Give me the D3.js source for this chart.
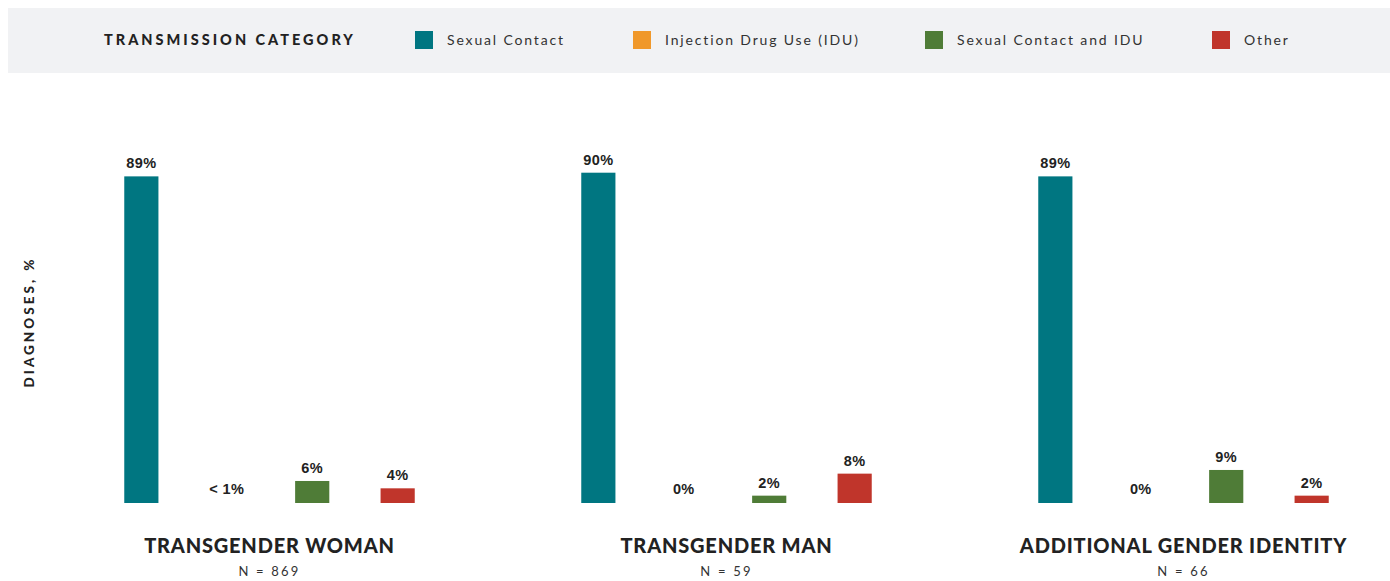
<!DOCTYPE html>
<html><head><meta charset="utf-8">
<script src="https://cdn.jsdelivr.net/npm/d3@7"></script>
<style>
body{margin:0;background:#fff;}
svg{display:block;}
</style></head>
<body>
<svg id="chart" width="1390" height="581"></svg>
<script>
const groups = ["TRANSGENDER WOMAN", "TRANSGENDER MAN", "ADDITIONAL GENDER IDENTITY"];
const groupN = ["N = 869", "N = 59", "N = 66"];
const categories = ["Sexual Contact", "Injection Drug Use (IDU)", "Sexual Contact and IDU", "Other"];
const colors = ["#007681", "#f0982a", "#4f7c37", "#c0352b"];
const sexualContact = [89, 90, 89];
const idu = [0, 0, 0];
const sexualContactIdu = [6, 2, 9];
const other = [4, 8, 2];
const valueLabels = [["89%", "< 1%", "6%", "4%"], ["90%", "0%", "2%", "8%"], ["89%", "0%", "9%", "2%"]];

const series = [sexualContact, idu, sexualContactIdu, other];
const svg = d3.select("#chart");

// legend band
svg.append("rect").attr("x", 8).attr("y", 8).attr("width", 1382).attr("height", 65).attr("fill", "#f1f2f4");
svg.append("text").attr("x", 104).attr("y", 45).text("TRANSMISSION CATEGORY")
  .attr("font-family", "Lato, sans-serif").attr("font-weight", 900).attr("font-size", 14.5)
  .attr("letter-spacing", 3).attr("fill", "#222");
const legX = [415, 633, 925, 1212];
categories.forEach((c, i) => {
  svg.append("rect").attr("x", legX[i]).attr("y", 31).attr("width", 18).attr("height", 18).attr("fill", colors[i]);
  svg.append("text").attr("x", legX[i] + 32).attr("y", 45).text(c)
    .attr("font-family", "Lato, sans-serif").attr("font-size", 14).attr("letter-spacing", 1.85).attr("fill", "#333");
});

const x0 = d3.scaleBand().domain(groups).range([73, 73 + 3 * 457]);
const x1 = d3.scaleBand().domain(categories).range([0, 393]).padding(0.6);
const y = d3.scaleLinear().domain([0, 100]).range([503, 136]);

groups.forEach((g, gi) => {
  const gx = x0(g);
  categories.forEach((c, ci) => {
    const v = series[ci][gi];
    const bx = gx + x1(c);
    if (v > 0) {
      svg.append("rect").attr("x", bx).attr("y", y(v)).attr("width", x1.bandwidth())
        .attr("height", y(0) - y(v)).attr("fill", colors[ci]);
    }
    svg.append("text").attr("x", bx + x1.bandwidth() / 2).attr("y", v > 0 ? y(v) - 8 : y(0) - 9)
      .attr("text-anchor", "middle").text(valueLabels[gi][ci])
      .attr("font-family", "Liberation Sans, Arial, sans-serif").attr("font-weight", 700)
      .attr("font-size", 14.5).attr("letter-spacing", 0.4).attr("fill", "#222");
  });
  const cx = gx + 196.5;
  svg.append("text").attr("x", cx).attr("y", 553).attr("text-anchor", "middle").text(g)
    .attr("font-family", "Lato, sans-serif").attr("font-weight", 900).attr("font-size", 20)
    .attr("letter-spacing", 0.8).attr("fill", "#222");
  svg.append("text").attr("x", cx).attr("y", 576).attr("text-anchor", "middle").text(groupN[gi])
    .attr("font-family", "Lato, sans-serif").attr("font-size", 13).attr("letter-spacing", 2.2)
    .attr("fill", "#333");
});

svg.append("text").attr("transform", "translate(34,322) rotate(-90)").attr("text-anchor", "middle")
  .text("DIAGNOSES, %").attr("font-family", "Lato, sans-serif").attr("font-weight", 900)
  .attr("font-size", 13.5).attr("letter-spacing", 3).attr("fill", "#222");
</script>
</body></html>
